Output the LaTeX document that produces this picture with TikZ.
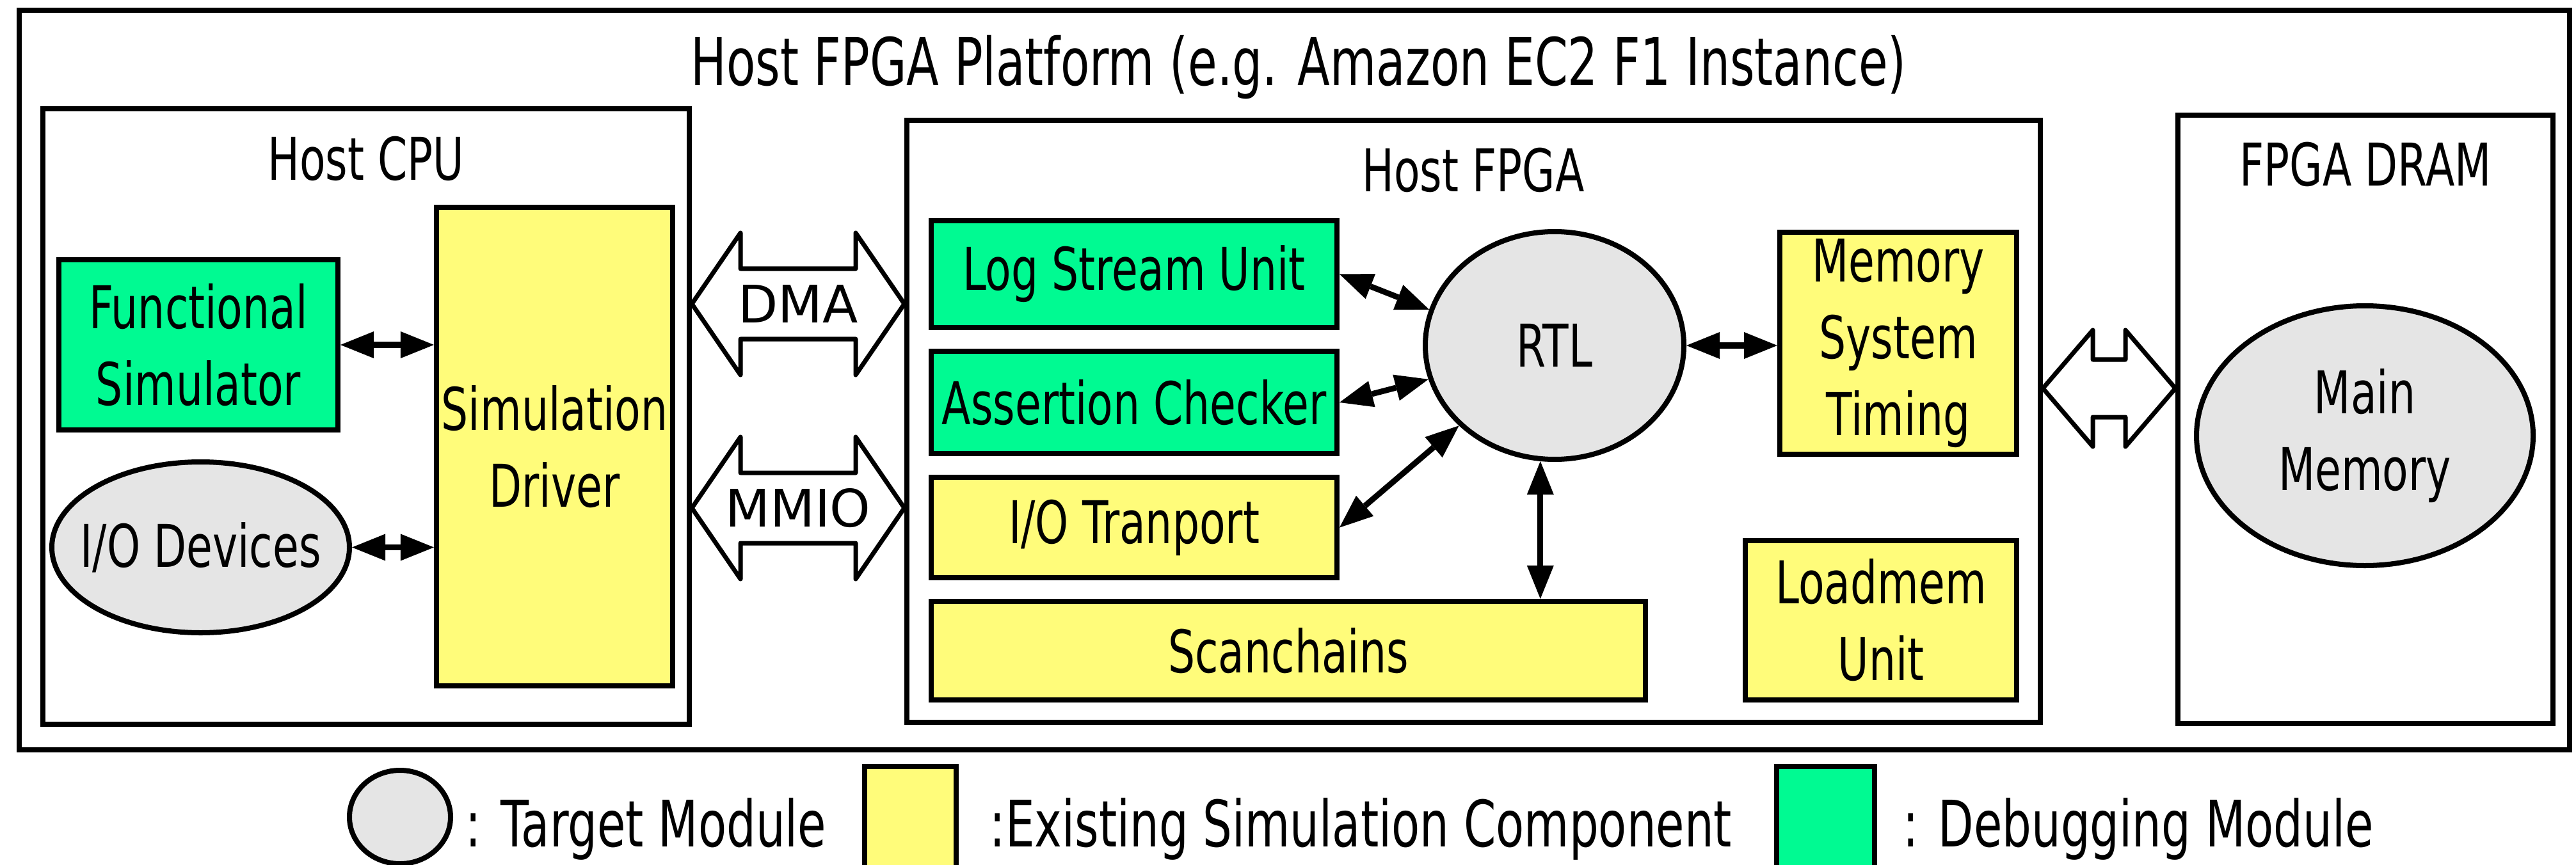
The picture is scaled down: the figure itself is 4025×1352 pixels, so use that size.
\documentclass[tikz,border=0pt]{standalone}
\usepackage{fontspec}
\setmainfont{DejaVu Sans}
\newfontfamily\condf[FakeStretch=0.72]{DejaVu Sans}
\newfontfamily\plainf{DejaVu Sans}
\usetikzlibrary{arrows.meta,shapes.geometric,calc}

\definecolor{dbggreen}{RGB}{0,250,146}
\definecolor{simyellow}{RGB}{255,252,122}
\definecolor{tgtgray}{RGB}{229,229,229}

\newcommand{\boxfont}{\condf\fontsize{26.2}{34.1}\selectfont}
\newcommand{\titlefont}{\condf\fontsize{29.3}{36}\selectfont}
\newcommand{\busfont}{\plainf\fontsize{23}{28}\selectfont}
\newcommand{\keyfont}{\condf\fontsize{28.5}{34}\selectfont}

% hollow two-headed bus arrow:
% #1 left tip, #2 total length, #3 head length, #4 head half-height, #5 shaft half-height
\newcommand{\fatarrow}[5]{%
  \draw[fat] #1 -- ++(#3,-#4) -- ++(0,#4-#5) -- ++(#2-2*#3,0) -- ++(0,#5-#4)
    -- ++(#3,#4) -- ++(-#3,#4) -- ++(0,#5-#4) -- ++(2*#3-#2,0) -- ++(0,#4-#5) -- cycle;}

\tikzset{
  sz/.style 2 args={minimum width=#1*0.01cm, minimum height=#2*0.01cm},
  frame/.style={draw, line width=0.08cm, inner sep=0pt},
  lbl/.style={font=\boxfont, align=center, inner sep=0pt},
  txt/.style={label={[lbl]center:#1}},
  ybox/.style={frame, fill=simyellow},
  gbox/.style={frame, fill=dbggreen},
  tgt/.style={frame, ellipse, fill=tgtgray},
  link/.style={line width=0.09cm,
    {Triangle[length=0.52cm,width=0.42cm,line width=0pt]}-{Triangle[length=0.52cm,width=0.42cm,line width=0pt]}},
  fat/.style={draw, line width=0.07cm, line join=round, fill=white},
}

\begin{document}
\begin{tikzpicture}[x=0.01cm, y=-0.01cm]
\useasboundingbox (0,0) rectangle (4025,1352);

% platform frame and title
\node[frame, sz={3985}{1156}] (platform) at (2022.5,594) {};
\node[lbl, font=\titlefont, anchor=base] (ptitle) at (2029,134) {Host FPGA Platform (e.g. Amazon EC2 F1 Instance)};

% host CPU side
\node[frame, sz={1010}{962}] (cpu) at (572,651) {};
\node[lbl, anchor=base] (cpulbl) at (572,282) {Host CPU};
\node[gbox, sz={436}{266}, txt={Functional\\Simulator}] (fs) at (310,539) {};
\node[ybox, sz={369}{748}, txt={Simulation\\Driver}] (drv) at (866.5,698) {};
\node[tgt, sz={465}{267}, txt={I/O Devices}] (iodev) at (313.5,855.5) {};

% host FPGA side
\node[frame, sz={1771}{941}] (fpga) at (2302.5,658.5) {};
\node[lbl, anchor=base] (fpgalbl) at (2302,300) {Host FPGA};
\node[gbox, sz={634}{167}, txt={Log Stream Unit}] (lsu) at (1772,428.5) {};
\node[gbox, sz={634}{160}, txt={Assertion Checker}] (ac) at (1772,629) {};
\node[ybox, sz={634}{157}, txt={I/O Tranport}] (iot) at (1772,824.5) {};
\node[ybox, sz={1116}{154}, txt={Scanchains}] (scan) at (2013,1017) {};
\node[tgt, sz={404}{356}, txt={RTL}] (rtl) at (2429,540) {};
\node[ybox, sz={370}{347}, txt={Memory\\System\\Timing}] (mst) at (2966,536.5) {};
\node[ybox, sz={424}{249}, txt={Loadmem\\Unit}] (lm) at (2939,969.5) {};

% FPGA DRAM
\node[frame, sz={586}{951}] (dram) at (3696,655.5) {};
\node[lbl, anchor=base] (dramlbl) at (3696,291) {FPGA DRAM};
\node[tgt, sz={526}{406}, txt={Main\\Memory}] (mm) at (3695,681) {};

% links
\draw[link] (fs.east) -- (fs.east -| drv.west);
\draw[link] (iodev.east) -- (iodev.east -| drv.west);
\draw[link] (lsu.east) -- (rtl.164);
\draw[link] (ac.east) -- (rtl.195);
\draw[link] (iot.east) -- (rtl.220);
\draw[link] (rtl.263) -- (rtl.263 |- scan.north);
\draw[link] (rtl.east) -- (rtl.east -| mst.west);

% buses
\fatarrow{(cpu.east |- 0,475)}{332}{76}{111}{55}
\node[font=\busfont, inner sep=0pt] (dma) at (1247,475) {DMA};
\fatarrow{(cpu.east |- 0,794)}{332}{76}{111}{55}
\node[font=\busfont, inner sep=0pt] (mmio) at (1247,794) {MMIO};
\fatarrow{(fpga.east |- 0,607)}{207}{78}{91}{45}

% key
\node[tgt, sz={158}{146}] (keytgt) at (625,1277) {};
\node[lbl, font=\keyfont, anchor=base west] (keytgttxt) at (727,1323) {: Target Module};
\node[ybox, sz={143}{170}] (keysim) at (1422,1283) {};
\node[lbl, font=\keyfont, anchor=base west] (keysimtxt) at (1546,1323) {:Existing Simulation Component};
\node[gbox, sz={153}{170}] (keydbg) at (2852,1283) {};
\node[lbl, font=\keyfont, anchor=base west] (keydbgtxt) at (2973,1323) {: Debugging Module};
\end{tikzpicture}
\end{document}
